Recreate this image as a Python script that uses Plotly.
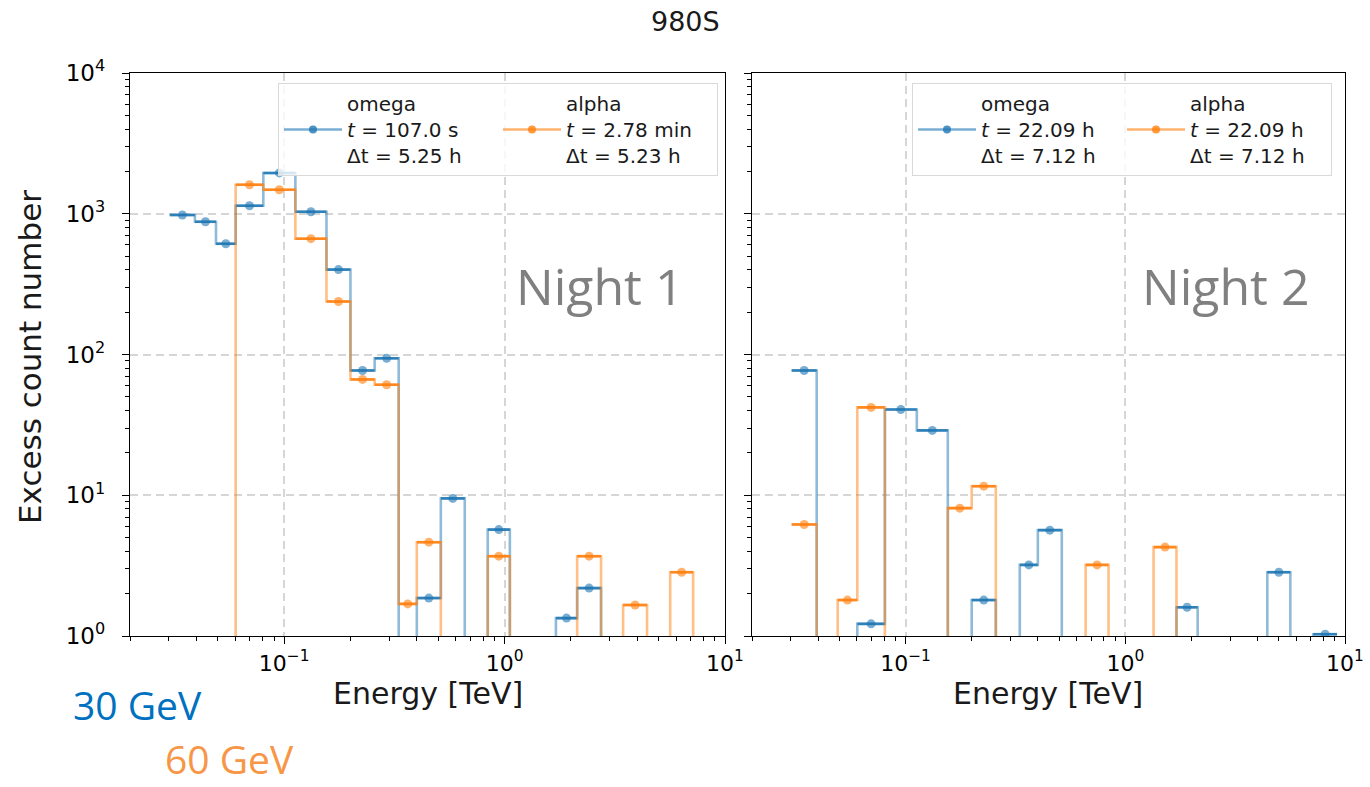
import numpy as np
import plotly.graph_objects as go

# ---------------- data ----------------
edges = [0.0303, 0.0394, 0.0491, 0.0603, 0.0805, 0.1125, 0.1557, 0.2, 0.2575, 0.331,
         0.40, 0.514, 0.66, 0.839, 1.057, 1.345, 1.71, 2.135, 2.74, 3.45, 4.43, 5.64, 7.17, 9.2]

n1_omega = [980, 877, 612, 1140, 1950, 1033, 401, 77, 94, 0, 1.86, 9.5, 0, 5.7, 0, 0,
            1.34, 2.19, 0, 0, 0, 0, 0]
n1_alpha = [0, 0, 0, 1607, 1480, 665, 238, 66.5, 61, 1.69, 4.64, 0, 0, 3.69, 0, 0,
            0, 3.69, 0, 1.66, 0, 2.84, 0]
n2_omega = [77, 0, 0, 1.22, 40.7, 28.9, 0, 1.8, 0, 3.2, 5.65, 0, 0, 0, 0, 0,
            1.6, 0, 0, 0, 2.84, 0, 1.03]
n2_alpha = [6.2, 0, 1.8, 42.1, 0, 0, 8.1, 11.6, 0, 0, 0, 0, 3.2, 0, 0, 4.28,
            0, 0, 0, 0, 0, 0, 0]

legend_n1 = ["omega<br><i>t</i> = 107.0 s<br>Δt = 5.25 h",
             "alpha<br><i>t</i> = 2.78 min<br>Δt = 5.23 h"]
legend_n2 = ["omega<br><i>t</i> = 22.09 h<br>Δt = 7.12 h",
             "alpha<br><i>t</i> = 22.09 h<br>Δt = 7.12 h"]

title = "980S"
panel_labels = ["Night 1", "Night 2"]
x_ticks = [0.1, 1, 10]
x_ticktext = ["10<sup>−1</sup>", "10<sup>0</sup>", "10<sup>1</sup>"]
y_ticks = [1, 10, 100, 1000, 10000]
y_ticktext = ["10<sup>0</sup>", "10<sup>1</sup>", "10<sup>2</sup>", "10<sup>3</sup>", "10<sup>4</sup>"]

# ---------------- style ----------------
W, H = 1370, 787
BLUE = (31, 119, 180)
ORANGE = (255, 127, 14)
FONT = "DejaVu Sans"


def rgba(c, a):
    return f"rgba({c[0]},{c[1]},{c[2]},{a})"


e = np.array(edges)
centers = np.sqrt(e[:-1] * e[1:])
lo = centers - e[:-1]
hi = e[1:] - centers

fig = go.Figure()


def add_series(vals, color, xa, ya):
    v = np.array(vals, dtype=float)
    ys = np.where(v > 0, v, 1e-3)
    ys = np.append(ys, ys[-1])
    fig.add_trace(go.Scatter(x=e, y=ys, mode="lines", line=dict(shape="hv", color=rgba(color, 0.5), width=2.6),
                             xaxis=xa, yaxis=ya, showlegend=False, hoverinfo="skip"))
    m = v > 0
    fig.add_trace(go.Scatter(x=centers[m], y=v[m], mode="markers",
                             marker=dict(size=9, color=rgba(color, 0.6)),
                             error_x=dict(type="data", array=hi[m], arrayminus=lo[m], width=0,
                                          thickness=2.6, color=rgba(color, 0.85)),
                             xaxis=xa, yaxis=ya, showlegend=False))


def add_legend_entry(name, color, legend):
    fig.add_trace(go.Scatter(x=[None], y=[None], mode="lines+markers", name=name,
                             line=dict(color=rgba(color, 0.6), width=2.6),
                             marker=dict(size=8, color=rgba(color, 0.8)),
                             legend=legend, showlegend=True))


add_series(n1_omega, BLUE, "x", "y")
add_series(n1_alpha, ORANGE, "x", "y")
add_series(n2_omega, BLUE, "x2", "y2")
add_series(n2_alpha, ORANGE, "x2", "y2")
add_legend_entry(legend_n1[0], BLUE, "legend")
add_legend_entry(legend_n1[1], ORANGE, "legend")
add_legend_entry(legend_n2[0], BLUE, "legend2")
add_legend_entry(legend_n2[1], ORANGE, "legend2")

minor_x = [m * 10.0 ** k for k in range(-2, 1) for m in range(2, 10)]
minor_y = [m * 10.0 ** k for k in range(0, 4) for m in range(2, 10)]

xcommon = dict(type="log", range=[np.log10(0.02), 1], tickmode="array", tickvals=x_ticks,
               ticktext=x_ticktext, ticks="outside", ticklen=7, tickwidth=1.3, tickcolor="black",
               showline=True, linecolor="black", linewidth=1.3, mirror=True,
               showgrid=True, gridcolor="#d6d6d6", griddash="8px,5px", gridwidth=1.5,
               zeroline=False, tickfont=dict(family=FONT, size=22, color="black"),
               minor=dict(tickmode="array", tickvals=minor_x, ticks="outside", ticklen=4,
                          tickwidth=1, tickcolor="black", showgrid=False),
               automargin=False)
ycommon = dict(type="log", range=[0, 4], tickmode="array", tickvals=y_ticks, ticktext=y_ticktext,
               ticks="outside", ticklen=7, tickwidth=1.3, tickcolor="black",
               showline=True, linecolor="black", linewidth=1.3, mirror=True,
               showgrid=True, gridcolor="#d6d6d6", griddash="8px,5px", gridwidth=1.5,
               zeroline=False, tickfont=dict(family=FONT, size=23, color="black"),
               minor=dict(tickmode="array", tickvals=minor_y, ticks="outside", ticklen=4,
                          tickwidth=1, tickcolor="black", showgrid=False),
               automargin=False, domain=[151 / H, 714 / H])

legend_common = dict(orientation="h", y=1 - 83 / H, yanchor="top", xanchor="right",
                     bgcolor="rgba(255,255,255,0.8)", bordercolor="#d9d9d9", borderwidth=1,
                     font=dict(family=FONT, size=20, color="#1a1a1a"), itemwidth=58,
                     traceorder="normal")

fig.update_layout(
    width=W, height=H, margin=dict(l=0, r=0, t=0, b=0),
    plot_bgcolor="white", paper_bgcolor="white",
    xaxis=dict(xcommon, domain=[130 / W, 725 / W], anchor="y"),
    xaxis2=dict(xcommon, domain=[752 / W, 1345 / W], anchor="y2"),
    yaxis=dict(ycommon, anchor="x", ticklabelstandoff=12),
    yaxis2=dict(ycommon, anchor="x2", matches="y", showticklabels=False),
    legend=dict(legend_common, x=718 / W, entrywidth=146),
    legend2=dict(legend_common, x=1332 / W, entrywidth=136),
    showlegend=True,
)

ann = [
    dict(text=title, x=0.5, y=1 - 22 / H, font=dict(family=FONT, size=27, color="#1a1a1a")),
    dict(text="Excess count number", x=30 / W, y=1 - 357 / H, textangle=-90,
         font=dict(family=FONT, size=31, color="#1a1a1a")),
    dict(text=panel_labels[0], x=599 / W, y=1 - 286 / H, font=dict(family="Open Sans", size=50, color="#808080")),
    dict(text=panel_labels[1], x=1225 / W, y=1 - 286 / H, font=dict(family="Open Sans", size=50, color="#808080")),
    dict(text="30 GeV", x=137 / W, y=1 - 704 / H, font=dict(family="Open Sans", size=39, color="#0070C0")),
]
for a in ann:
    fig.add_annotation(xref="paper", yref="paper", showarrow=False, xanchor="center", yanchor="middle", **a)
for xc in (428, 1048):
    fig.add_annotation(xref="paper", yref="paper", showarrow=False, xanchor="center", yanchor="top",
                       x=xc / W, y=1 - 674 / H, text="Energy [TeV]",
                       font=dict(family=FONT, size=30, color="#1a1a1a"))
fig.add_annotation(xref="paper", yref="paper", showarrow=False, xanchor="center", yanchor="bottom",
                   x=230 / W, y=0, text="60 GeV", font=dict(family="Open Sans", size=39, color="#F79646"))

fig.write_html("out.html")
